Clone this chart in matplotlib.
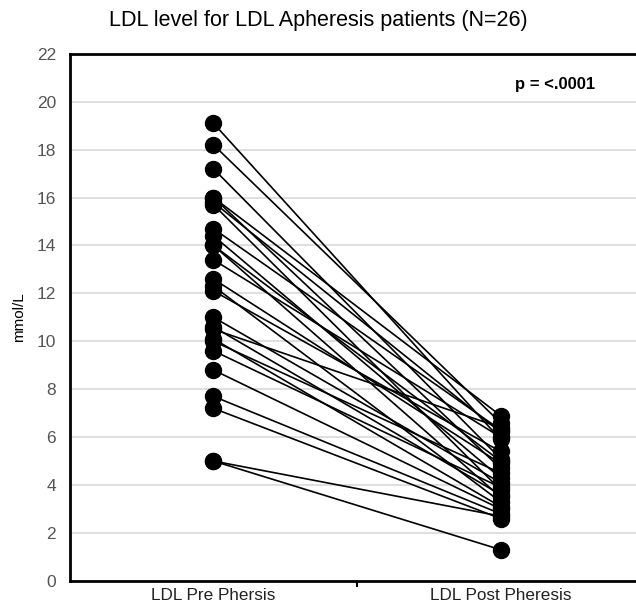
import matplotlib
matplotlib.use("Agg")
import matplotlib.pyplot as plt

plt.rcParams['font.family'] = ['Liberation Sans', 'DejaVu Sans']

# valeurs (mmol/L)
pre = [19.1, 18.2, 17.2, 16.0, 16.0, 15.8, 15.7, 14.7, 14.4, 14.0, 14.0, 13.4, 12.6,
       12.3, 12.1, 11.0, 10.6, 10.5, 10.1, 10.0, 9.6, 8.8, 7.7, 7.2, 5.0, 5.0]
post = [5.9, 6.6, 5.1, 6.9, 4.7, 6.2, 3.8, 6.3, 4.3, 5.0, 3.5, 6.0, 4.9,
        3.3, 5.4, 4.1, 3.6, 6.4, 3.1, 4.5, 3.9, 3.0, 2.8, 2.6, 2.7, 1.3]
categories = ["LDL Pre Phersis", "LDL Post Pheresis"]
yticks = list(range(0, 23, 2))

fig = plt.figure(figsize=(6.36, 6.05), dpi=100)
ax = fig.add_axes([0.110, 0.040, 0.89, 0.871])

xpos = [0.5, 1.5]
for a, b in zip(pre, post):
    ax.plot(xpos, [a, b], color='black', lw=1.2, marker='o', ms=11.5,
            mfc='black', mec='black', zorder=3)

ax.set_xlim(0, 1.972)
ax.set_ylim(0, 22)
ax.set_yticks(yticks)
ax.yaxis.grid(True, color='#d9d9d9', lw=1.2)
ax.set_axisbelow(True)

ax.set_xticks([1.0])
ax.set_xticklabels([''])
ax.set_xticks(xpos, minor=True)
ax.set_xticklabels(categories, minor=True, fontsize=12.3, color='#222222')
ax.tick_params(axis='x', which='minor', length=0, pad=5)
ax.tick_params(axis='x', which='major', length=4, width=1.5)
ax.tick_params(axis='y', length=0, labelsize=12.5, labelcolor='#555555', pad=10)

for s in ['left', 'bottom', 'top']:
    ax.spines[s].set_linewidth(2)
ax.spines['right'].set_visible(False)

ax.set_ylabel("mmol/L", fontsize=11, labelpad=8)
ax.text(1.69, 20.7, "p = <.0001", fontsize=12, fontweight='bold', ha='center', va='center')
fig.text(0.5, 0.966, "LDL level for LDL Apheresis patients (N=26)", ha='center', va='center', fontsize=15.5)

fig.savefig("out.png", dpi=100)
